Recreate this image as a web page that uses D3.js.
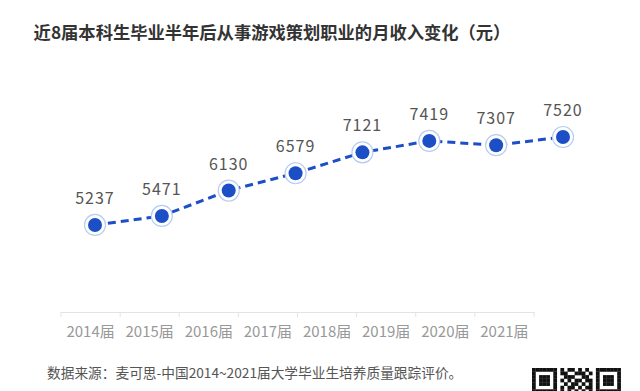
<!DOCTYPE html>
<html><head><meta charset="utf-8">
<script src="https://cdn.jsdelivr.net/npm/d3@7/dist/d3.min.js"></script>
<style>
html,body{margin:0;padding:0;background:#fff;}
svg{display:block;}
text{font-family:"Noto Sans CJK SC","Noto Sans",sans-serif;}
</style></head>
<body>
<svg id="chart" width="640" height="391"></svg>
<script>
const title = "近8届本科生毕业半年后从事游戏策划职业的月收入变化（元）";
const categories = ["2014届","2015届","2016届","2017届","2018届","2019届","2020届","2021届"];
const values = [5237, 5471, 6130, 6579, 7121, 7419, 7307, 7520];
const source = "数据来源：麦可思-中国2014~2021届大学毕业生培养质量跟踪评价。";
// decorative QR-like pattern (rows of modules)
const qrRows = [
  "1111111010110101001111111",
  "1000001011001110101000001",
  "1011101001110011001011101",
  "1011101010101101101011101",
  "1011101001011010101011101",
  "1000001010110101101000001",
  "1111111010101010101111111",
  "0000000011010110100000000",
  "1101011100110101011010110",
  "0110100011011010110101101"
];

const svg = d3.select("#chart");
const blue = "#1c4fc6";

svg.append("text").attr("x", 272).attr("y", 39).attr("text-anchor","middle")
  .attr("font-size", 17.3).attr("font-weight","bold").attr("fill","#333").text(title);

// axis band scale
const xAxisScale = d3.scaleBand().domain(categories).range([61, 534]);
// points scale (marks sit in their own layout)
const xPts = d3.scalePoint().domain(categories).range([95, 563]);
const y = d3.scaleLinear().domain([5000, 8000]).range([234.1, 118.5]);

const axisG = svg.append("g").attr("transform","translate(0,312)")
  .call(d3.axisBottom(xAxisScale).tickSize(0).tickPadding(14));
axisG.select(".domain").attr("stroke","#e3e3e3").attr("stroke-width",1);
axisG.selectAll("text").attr("font-size",15).attr("fill","#999")
  .attr("font-family",'"Noto Sans CJK SC",sans-serif');
// tick separators at band edges
const edges = categories.map(c => xAxisScale(c)).concat([xAxisScale.range()[1]]);
axisG.selectAll(".sep").data(edges).enter().append("line")
  .attr("x1", d=>d).attr("x2", d=>d).attr("y1",0).attr("y2",5)
  .attr("stroke","#e3e3e3");

const line = d3.line().x((d,i)=>xPts(categories[i])).y(d=>y(d));
svg.append("path").datum(values).attr("d", line).attr("fill","none")
  .attr("stroke", blue).attr("stroke-width",3).attr("stroke-dasharray","8,5");

const pts = svg.append("g").selectAll("g").data(values).enter().append("g")
  .attr("transform",(d,i)=>`translate(${xPts(categories[i])},${y(d)})`);
pts.append("circle").attr("r",10.5).attr("fill","#fff").attr("stroke","#b8cdf1").attr("stroke-width",1.2);
pts.append("circle").attr("r",7).attr("fill",blue);
pts.append("text").attr("y",-21).attr("text-anchor","middle").attr("font-size",16)
  .attr("letter-spacing",1).attr("fill","#555").attr("font-family","Roboto, sans-serif").text(d=>d);

svg.append("text").attr("x",47).attr("y",378).attr("font-size",13.7).attr("fill","#555").text(source);

// QR-like decoration
const qr = svg.append("g").attr("transform","translate(532,368)");
const cell = 3.55;
qrRows.forEach((row,r)=>{
  row.split("").forEach((c,k)=>{
    if(c==="1") qr.append("rect").attr("x",k*cell).attr("y",r*cell).attr("width",cell+0.2).attr("height",cell+0.2).attr("fill","#111");
  });
});
</script>
</body></html>
